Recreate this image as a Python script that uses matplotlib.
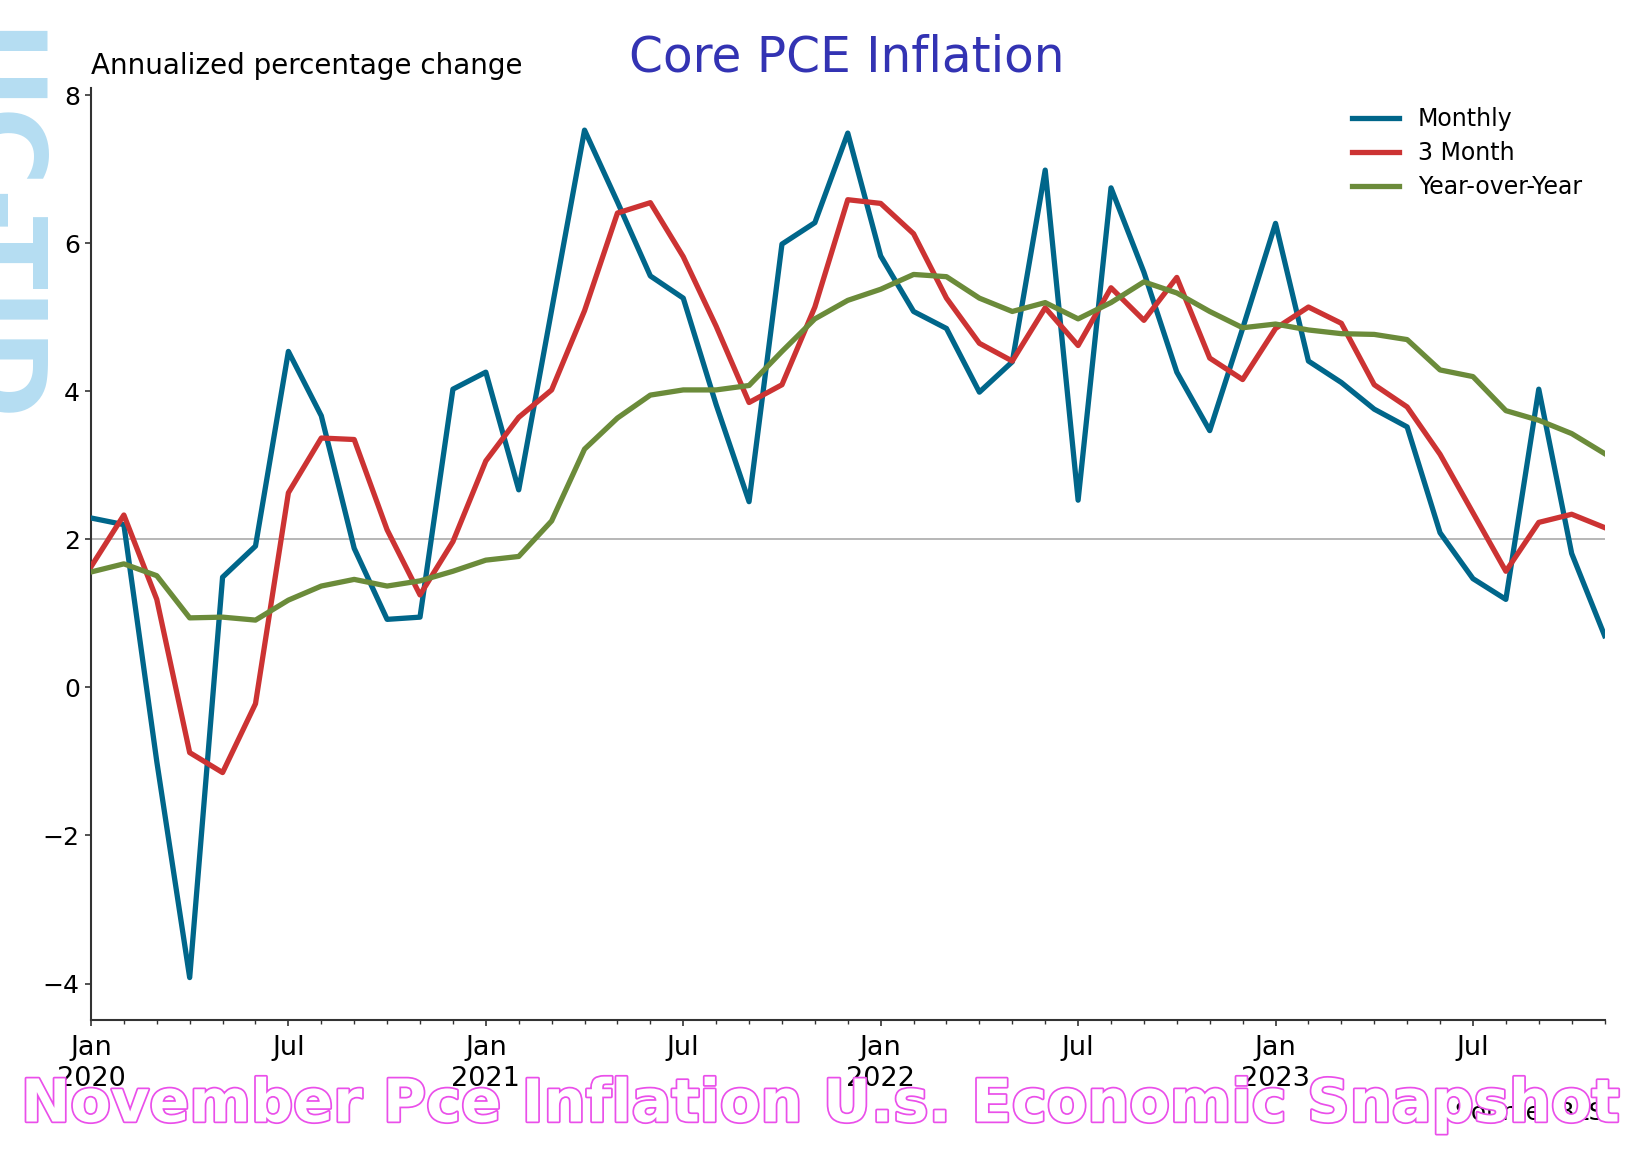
import matplotlib
matplotlib.use("Agg")
import matplotlib.pyplot as plt
import matplotlib.patheffects as pe
from matplotlib.ticker import MultipleLocator, FixedLocator

# ---- data (annualized % change), Jan 2020 .. Nov 2023 ----
monthly = [2.29, 2.20, -1.0, -3.92, 1.49, 1.91, 4.54, 3.67, 1.88, 0.92, 0.95, 4.03,
           4.26, 2.67, 5.10, 7.53, 6.56, 5.56, 5.26, 3.82, 2.51, 5.99, 6.28, 7.49,
           5.83, 5.08, 4.85, 3.99, 4.40, 6.99, 2.53, 6.75, 5.61, 4.26, 3.47, 4.85,
           6.27, 4.41, 4.12, 3.76, 3.52, 2.09, 1.47, 1.19, 4.03, 1.81, 0.70]
three_month = [1.63, 2.33, 1.19, -0.88, -1.15, -0.22, 2.63, 3.37, 3.35, 2.13, 1.25, 1.97,
               3.06, 3.65, 4.02, 5.09, 6.41, 6.55, 5.82, 4.88, 3.85, 4.09, 5.14, 6.59,
               6.54, 6.13, 5.26, 4.65, 4.41, 5.13, 4.62, 5.40, 4.96, 5.54, 4.45, 4.16,
               4.85, 5.14, 4.92, 4.09, 3.79, 3.15, 2.36, 1.57, 2.23, 2.34, 2.16]
year_over_year = [1.56, 1.67, 1.51, 0.94, 0.95, 0.91, 1.18, 1.37, 1.46, 1.37, 1.44, 1.57,
                  1.72, 1.77, 2.25, 3.22, 3.64, 3.95, 4.02, 4.02, 4.08, 4.54, 4.98, 5.23,
                  5.38, 5.58, 5.55, 5.26, 5.08, 5.20, 4.98, 5.20, 5.48, 5.33, 5.08, 4.86,
                  4.91, 4.83, 4.78, 4.77, 4.70, 4.29, 4.20, 3.74, 3.61, 3.43, 3.16]
series_names = ["Monthly", "3 Month", "Year-over-Year"]
tick_labels = ["Jan\n2020", "Jul", "Jan\n2021", "Jul", "Jan\n2022", "Jul", "Jan\n2023", "Jul"]
target = 2

months = list(range(len(monthly)))
colors = ["#00668a", "#cc3333", "#6b8b3a"]

fig = plt.figure(figsize=(16.39, 11.67), dpi=100)
ax = fig.add_axes([0.0555, 0.126, 0.9235, 0.7988])

ax.axhline(target, color="#aaaaaa", lw=1.2, zorder=1)
for vals, name, c in zip([monthly, three_month, year_over_year], series_names, colors):
    ax.plot(months, vals, color=c, lw=3.8, label=name, zorder=3)

ax.set_xlim(months[0], months[-1])
ax.margins(y=0.05)
ax.xaxis.set_major_locator(FixedLocator(list(range(0, len(months), 6))))
ax.set_xticklabels(tick_labels, linespacing=1.25)
ax.xaxis.set_minor_locator(MultipleLocator(1))
ax.yaxis.set_major_locator(MultipleLocator(2))
for s in ["top", "right"]:
    ax.spines[s].set_visible(False)
for s in ["left", "bottom"]:
    ax.spines[s].set_color("#333333")
    ax.spines[s].set_linewidth(1.5)
ax.tick_params(axis="both", which="major", length=4.5, width=1.2, color="#333333")
ax.tick_params(axis="x", which="major", labelsize=19.5, pad=6)
ax.tick_params(axis="y", which="major", labelsize=18)
ax.tick_params(axis="x", which="minor", length=3, width=1.0, color="#333333")

leg = ax.legend(loc="upper right", frameon=False, fontsize=17, handlelength=2.0,
                labelspacing=0.42, bbox_to_anchor=(0.999, 1.002))

fig.text(0.5165, 0.951, "Core PCE Inflation", color="#3333b3", fontsize=35,
         ha="center", va="center")
fig.text(0.0555, 0.937, "Annualized percentage change", fontsize=20,
         ha="left", va="baseline")
fig.text(0.979, 0.046, "Source: BLS", fontsize=18, ha="right", va="center")

# watermark on the left edge
fig.text(40 / 1639, 1 - 29 / 1167, "UC-TID", color="#b5ddf2", fontsize=77,
         fontweight="bold", rotation=-90, ha="right", va="top", zorder=0)

# pink outlined overlay text
t = fig.text(0.5003, 1 - 1105 / 1167, "November Pce Inflation U.s. Economic Snapshot",
             fontsize=42.5, fontweight="bold", color="white", ha="center", va="center",
             family="DejaVu Sans", zorder=10)
t.set_path_effects([pe.Stroke(linewidth=2.5, foreground="#ea4fea"), pe.Normal()])

fig.savefig("out.png", dpi=100)
